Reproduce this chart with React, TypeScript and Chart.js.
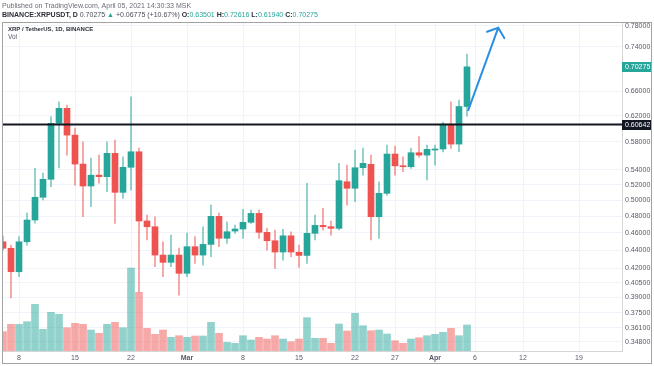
import React, { useEffect, useRef } from 'react';
import { Chart, registerables } from 'chart.js';

Chart.register(...registerables);

const dates = [
  '2021-02-06', '2021-02-07', '2021-02-08', '2021-02-09', '2021-02-10', '2021-02-11', '2021-02-12',
  '2021-02-13', '2021-02-14', '2021-02-15', '2021-02-16', '2021-02-17', '2021-02-18', '2021-02-19',
  '2021-02-20', '2021-02-21', '2021-02-22', '2021-02-23', '2021-02-24', '2021-02-25', '2021-02-26',
  '2021-02-27', '2021-02-28', '2021-03-01', '2021-03-02', '2021-03-03', '2021-03-04', '2021-03-05',
  '2021-03-06', '2021-03-07', '2021-03-08', '2021-03-09', '2021-03-10', '2021-03-11', '2021-03-12',
  '2021-03-13', '2021-03-14', '2021-03-15', '2021-03-16', '2021-03-17', '2021-03-18', '2021-03-19',
  '2021-03-20', '2021-03-21', '2021-03-22', '2021-03-23', '2021-03-24', '2021-03-25', '2021-03-26',
  '2021-03-27', '2021-03-28', '2021-03-29', '2021-03-30', '2021-03-31', '2021-04-01', '2021-04-02',
  '2021-04-03', '2021-04-04', '2021-04-05',
];

const opens = [
  0.4495, 0.4421, 0.4164, 0.4495, 0.4752, 0.5036, 0.5273, 0.6083, 0.6321, 0.5903, 0.5482, 0.5183,
  0.5329, 0.5308, 0.5634, 0.5100, 0.5437, 0.5657, 0.4740, 0.4671, 0.4345, 0.4265, 0.4345,
  0.4147, 0.4439, 0.4345, 0.4465, 0.4797, 0.4535, 0.4620, 0.4644, 0.4724, 0.4833, 0.4605, 0.4507,
  0.4379, 0.4564, 0.4376, 0.4341, 0.4593, 0.4687, 0.4671, 0.4652, 0.5240, 0.5153, 0.5431, 0.5478,
  0.4792, 0.5087, 0.5624, 0.5457, 0.5445, 0.5643, 0.5609,
  0.5682, 0.5697, 0.6071, 0.5769, 0.63501,
];

const highs = [
  0.4562, 0.4457, 0.4554, 0.4837, 0.5423, 0.5357, 0.6187, 0.6428, 0.6373, 0.6011, 0.5804, 0.5568,
  0.5609, 0.5804, 0.5829, 0.5586, 0.6511, 0.5712, 0.4812, 0.4792, 0.4495, 0.4572, 0.4424,
  0.4596, 0.4554, 0.4671, 0.4936, 0.4837, 0.4731, 0.4690, 0.4884, 0.4875, 0.4875, 0.4652, 0.4632,
  0.4640, 0.4612, 0.4457, 0.5218, 0.4812, 0.4896, 0.4740, 0.5492, 0.5467, 0.5682, 0.5712, 0.5609,
  0.5240, 0.5754, 0.5741, 0.5586, 0.5707, 0.5879, 0.5754,
  0.5754, 0.6103, 0.6428, 0.6456, 0.72616,
];

const lows = [
  0.4401, 0.3894, 0.4111, 0.4457, 0.4715, 0.5001, 0.5174, 0.5427, 0.5609, 0.5195, 0.4792, 0.4916,
  0.5222, 0.5108, 0.4711, 0.5023, 0.5130, 0.3953, 0.4515, 0.4218, 0.4111, 0.4218, 0.3923,
  0.4111, 0.4254, 0.4235, 0.4327, 0.4439, 0.4477, 0.4593, 0.4535, 0.4711, 0.4535, 0.4401, 0.4200,
  0.4290, 0.4327, 0.4211, 0.4254, 0.4515, 0.4632, 0.4572, 0.4632, 0.4936, 0.4979, 0.5329, 0.4515,
  0.4535, 0.5060, 0.5329, 0.5376, 0.5423, 0.5578, 0.5263,
  0.5467, 0.5653, 0.5707, 0.5657, 0.61940,
];

const closes = [
  0.4421, 0.4164, 0.4495, 0.4752, 0.5036, 0.5273, 0.6083, 0.6321, 0.5903, 0.5482, 0.5183, 0.5329,
  0.5308, 0.5634, 0.5100, 0.5437, 0.5657, 0.4740, 0.4671, 0.4345, 0.4265, 0.4345, 0.4147,
  0.4439, 0.4345, 0.4465, 0.4797, 0.4535, 0.4612, 0.4644, 0.4724, 0.4833, 0.4605, 0.4507, 0.4379,
  0.4564, 0.4379, 0.4341, 0.4593, 0.4687, 0.4671, 0.4652, 0.5254, 0.5153, 0.5431, 0.5492, 0.4792,
  0.5087, 0.5624, 0.5457, 0.5445, 0.5643, 0.5609, 0.5692,
  0.5697, 0.6071, 0.5769, 0.6350, 0.70275,
];

// volume, millions of XRP
const volumes = [
  772, 1068, 1068, 1172, 1868, 868, 1548, 1468, 932, 1108, 1068, 840, 708, 1068, 1148, 932, 3320,
  2348, 908, 668, 840, 548, 612,
  548, 600, 600, 1148, 708, 348, 308, 612, 440, 548, 480, 612, 480, 372, 480, 1332, 508, 508, 308,
  1080, 800, 1508, 1012, 812, 840, 680, 412, 308, 480, 532, 612,
  668, 748, 908, 612, 1040,
];

const priceTicks = [0.78, 0.74, 0.66, 0.62, 0.58, 0.54, 0.52, 0.5, 0.48, 0.46, 0.44, 0.42, 0.405, 0.39, 0.375, 0.361, 0.348];
const xTickDates = ['2021-02-08', '2021-02-15', '2021-02-22', '2021-03-01', '2021-03-08', '2021-03-15', '2021-03-22', '2021-03-27', '2021-04-01', '2021-04-06', '2021-04-12', '2021-04-19'];
const xTickLabels = ['8', '15', '22', 'Mar', '8', '15', '22', '27', 'Apr', '6', '12', '19'];

const levelPrice = 0.60642;
const lastPrice = 0.70275;
const arrowFrom = { date: '2021-04-05', extra: 0.16, price: 0.6293 };
const arrowTo = { date: '2021-04-08', extra: 0.91, price: 0.7766 };

const FONT = '"Liberation Sans", Arial, sans-serif';
const UP = '#26a69a';
const DOWN = '#ef5350';

const toDay = (s: string) => {
  const [y, m, d] = s.split('-').map(Number);
  return (Date.UTC(y, m - 1, d) - Date.UTC(y, 0, 1)) / 86400000 + 1;
};

const overlay = {
  id: 'overlay',
  afterDatasetsDraw(chart: any) {
    const { ctx, chartArea: a, scales } = chart;
    const x = scales.x;
    const y = scales.y;
    ctx.save();
    ctx.beginPath();
    ctx.rect(a.left, a.top, a.right - a.left, a.bottom - a.top);
    ctx.clip();
    // support line
    const ly = y.getPixelForValue(levelPrice);
    ctx.strokeStyle = '#131722';
    ctx.lineWidth = 2;
    ctx.beginPath();
    ctx.moveTo(a.left, ly);
    ctx.lineTo(a.right, ly);
    ctx.stroke();
    // arrow
    const x1 = x.getPixelForValue(toDay(arrowFrom.date) + arrowFrom.extra);
    const y1 = y.getPixelForValue(arrowFrom.price);
    const x2 = x.getPixelForValue(toDay(arrowTo.date) + arrowTo.extra);
    const y2 = y.getPixelForValue(arrowTo.price);
    ctx.strokeStyle = '#2b8fe3';
    ctx.lineWidth = 2;
    ctx.lineCap = 'round';
    ctx.beginPath();
    ctx.moveTo(x1, y1);
    ctx.lineTo(x2, y2);
    const ang = Math.atan2(y1 - y2, x1 - x2);
    const len = 12;
    const spread = (50 * Math.PI) / 180;
    ctx.moveTo(x2 + len * Math.cos(ang + spread), y2 + len * Math.sin(ang + spread));
    ctx.lineTo(x2, y2);
    ctx.lineTo(x2 + len * Math.cos(ang - spread), y2 + len * Math.sin(ang - spread));
    ctx.stroke();
    ctx.restore();
  },
  afterDraw(chart: any) {
    const { ctx, chartArea: a, scales } = chart;
    const y = scales.y;
    ctx.save();
    // price labels on axis
    const box = (v: number, bg: string) => {
      const py = y.getPixelForValue(v);
      ctx.fillStyle = bg;
      ctx.fillRect(a.right, Math.round(py) - 5, 30, 10);
      ctx.fillStyle = '#ffffff';
      ctx.font = `7px ${FONT}`;
      ctx.textBaseline = 'middle';
      ctx.textAlign = 'left';
      ctx.fillText(v.toFixed(5), a.right + 3, Math.round(py));
    };
    box(lastPrice, UP);
    box(levelPrice, '#131722');
    // frame
    ctx.strokeStyle = '#a3a3a3';
    ctx.lineWidth = 1;
    ctx.strokeRect(2.5, 22.5, 649, 341);
    // header
    ctx.textBaseline = 'middle';
    ctx.textAlign = 'left';
    ctx.font = `7px ${FONT}`;
    ctx.fillStyle = '#6a6d78';
    ctx.fillText('Published on TradingView.com, April 05, 2021 14:30:33 MSK', 2, 6);
    const segs: [string, string, boolean][] = [
      ['BINANCE:XRPUSDT, D ', '#2a2e39', true],
      ['0.70275 ', '#4a4e59', false],
      ['\u25B2 ', UP, false],
      ['+0.06775 (+10.67%) ', '#4a4e59', false],
      ['O:', '#2a2e39', true],
      ['0.63501 ', UP, false],
      ['H:', '#2a2e39', true],
      ['0.72616 ', UP, false],
      ['L:', '#2a2e39', true],
      ['0.61940 ', UP, false],
      ['C:', '#2a2e39', true],
      ['0.70275', UP, false],
    ];
    let xx = 2;
    for (const [t, c, b] of segs) {
      ctx.font = `${b ? 'bold ' : ''}7px ${FONT}`;
      ctx.fillStyle = c;
      ctx.fillText(t, xx, 15);
      xx += ctx.measureText(t).width;
    }
    // legend
    ctx.font = `bold 6px ${FONT}`;
    ctx.fillStyle = '#2a2e39';
    ctx.fillText('XRP / TetherUS, 1D, BINANCE', 8, 29);
    ctx.font = `6.5px ${FONT}`;
    ctx.fillStyle = '#555a66';
    ctx.fillText('Vol', 8, 37);
    ctx.restore();
  },
};

export default function App() {
  const ref = useRef<HTMLCanvasElement>(null);
  useEffect(() => {
    if (!ref.current) return;
    const days = dates.map(toDay);
    const up = closes.map((c, i) => c >= opens[i]);
    const chart = new Chart(ref.current, {
      type: 'bar',
      data: {
        datasets: [
          {
            label: 'Vol',
            data: days.map((d, i) => ({ x: d, y: volumes[i] })),
            yAxisID: 'vol',
            backgroundColor: up.map((u) => (u ? 'rgba(38,166,154,0.5)' : 'rgba(239,83,80,0.5)')),
            barThickness: 7,
            grouped: false,
            order: 3,
          } as any,
          {
            label: 'wick',
            data: days.map((d, i) => ({ x: d, y: [lows[i], highs[i]] })),
            yAxisID: 'y',
            backgroundColor: up.map((u) => (u ? 'rgba(38,166,154,0.6)' : 'rgba(239,83,80,0.6)')),
            barThickness: 1,
            grouped: false,
            order: 2,
          } as any,
          {
            label: 'body',
            data: days.map((d, i) => ({ x: d, y: [opens[i], closes[i]] })),
            yAxisID: 'y',
            backgroundColor: up.map((u) => (u ? UP : DOWN)),
            barThickness: 6,
            minBarLength: 1,
            grouped: false,
            order: 1,
          } as any,
        ],
      },
      options: {
        responsive: false,
        animation: false,
        devicePixelRatio: 1,
        layout: { padding: { left: 3, top: 22, right: 2, bottom: 3 } },
        plugins: { legend: { display: false }, tooltip: { enabled: false } },
        scales: {
          x: {
            type: 'linear',
            min: 37,
            max: 114.375,
            bounds: 'data',
            offset: false,
            afterBuildTicks: (s: any) => {
              s.ticks = xTickDates.map((d) => ({ value: toDay(d) }));
            },
            afterFit: (s: any) => {
              s.height = 12;
            },
            ticks: {
              autoSkip: false,
              maxRotation: 0,
              padding: 3,
              color: '#555a66',
              font: (c: any) => ({
                size: 7,
                family: FONT,
                weight: ['Mar', 'Apr'].includes(xTickLabels[c.index]) ? 'bold' : 'normal',
              }),
              callback: (_v: any, i: number) => xTickLabels[i],
            },
            grid: { color: '#f0f3fa', drawTicks: false, offset: false },
            border: { color: '#d6d6d6' },
          } as any,
          y: {
            type: 'logarithmic',
            position: 'right',
            min: 0.34007,
            max: 0.78801,
            bounds: 'data',
            afterBuildTicks: (s: any) => {
              s.ticks = priceTicks.map((v) => ({ value: v }));
            },
            afterFit: (s: any) => {
              s.width = 30;
            },
            ticks: {
              autoSkip: false,
              padding: 3,
              color: '#555a66',
              font: { size: 7, family: FONT },
              callback: (v: any) => Number(v).toFixed(5),
            },
            grid: { color: '#f0f3fa', drawTicks: false },
            border: { color: '#d6d6d6' },
          } as any,
          vol: {
            type: 'linear',
            display: false,
            min: 0,
            max: 13160,
          },
        },
      } as any,
      plugins: [overlay],
    });
    return () => chart.destroy();
  }, []);
  return (
    <div style={{ position: 'fixed', left: 0, top: 0, width: 654, height: 366, background: '#ffffff' }}>
      <canvas ref={ref} width={654} height={366} style={{ display: 'block' }} />
    </div>
  );
}
